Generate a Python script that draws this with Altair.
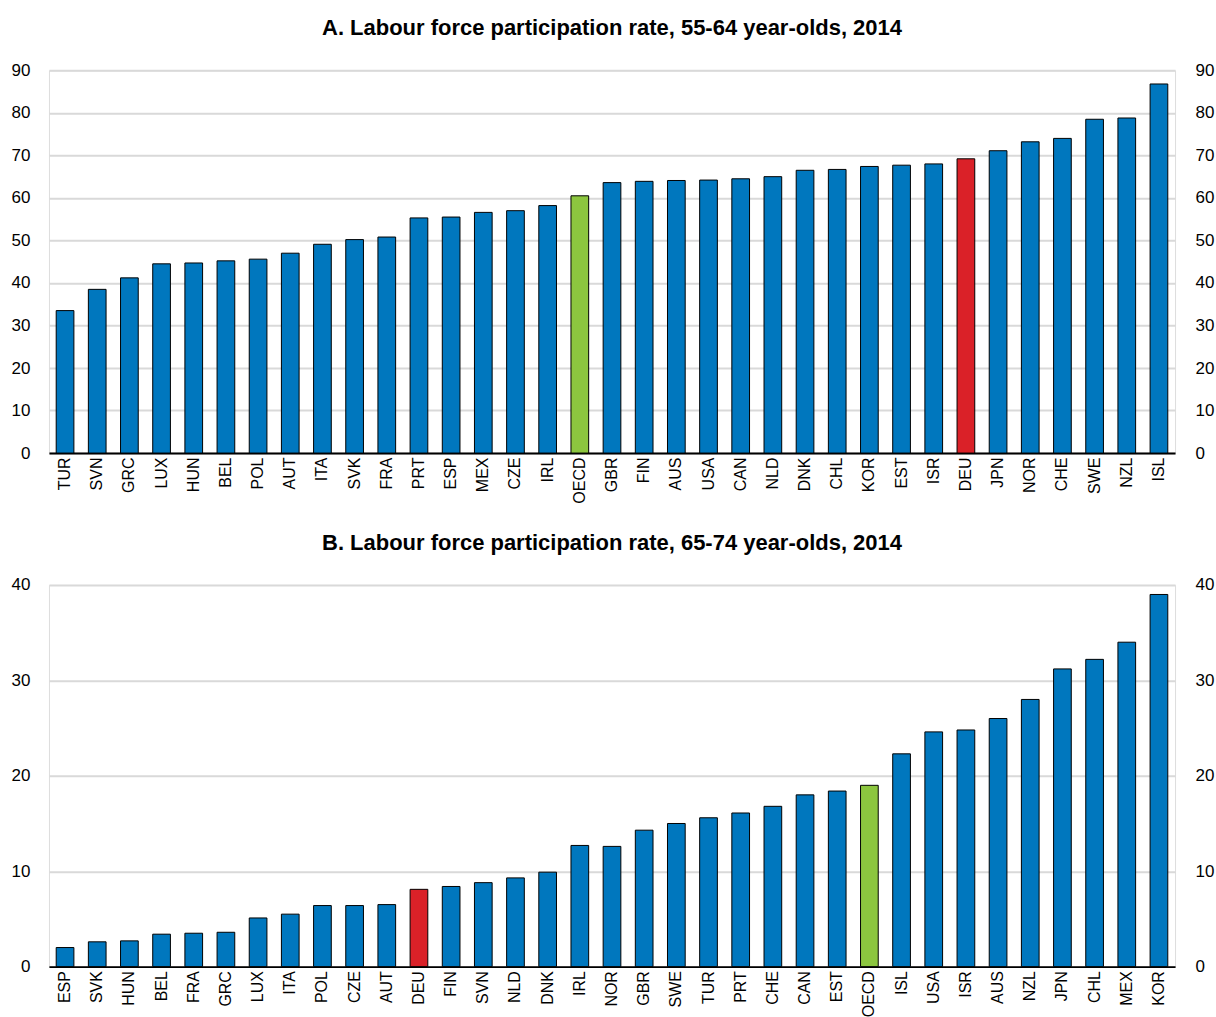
import altair as alt
import pandas as pd

FONT = "Liberation Sans Narrow, Arial Narrow, Liberation Sans, Arial, sans-serif"

# Panel A: 55-64 year-olds
countries_a = ["TUR", "SVN", "GRC", "LUX", "HUN", "BEL", "POL", "AUT", "ITA", "SVK",
               "FRA", "PRT", "ESP", "MEX", "CZE", "IRL", "OECD", "GBR", "FIN", "AUS",
               "USA", "CAN", "NLD", "DNK", "CHL", "KOR", "EST", "ISR", "DEU", "JPN",
               "NOR", "CHE", "SWE", "NZL", "ISL"]
values_a = [33.5, 38.5, 41.2, 44.5, 44.7, 45.2, 45.6, 47.0, 49.1, 50.2,
            50.8, 55.3, 55.5, 56.6, 57.0, 58.2, 60.5, 63.6, 63.9, 64.1,
            64.2, 64.5, 65.0, 66.5, 66.7, 67.4, 67.7, 68.0, 69.2, 71.1,
            73.2, 74.0, 78.5, 78.8, 86.8]

# Panel B: 65-74 year-olds
countries_b = ["ESP", "SVK", "HUN", "BEL", "FRA", "GRC", "LUX", "ITA", "POL", "CZE",
               "AUT", "DEU", "FIN", "SVN", "NLD", "DNK", "IRL", "NOR", "GBR", "SWE",
               "TUR", "PRT", "CHE", "CAN", "EST", "OECD", "ISL", "USA", "ISR", "AUS",
               "NZL", "JPN", "CHL", "MEX", "KOR"]
values_b = [2.0, 2.6, 2.7, 3.4, 3.5, 3.6, 5.1, 5.5, 6.4, 6.4,
            6.5, 8.1, 8.4, 8.8, 9.3, 9.9, 12.7, 12.6, 14.3, 15.0,
            15.6, 16.1, 16.8, 18.0, 18.4, 19.0, 22.3, 24.6, 24.8, 26.0,
            28.0, 31.2, 32.2, 34.0, 39.0]

titles = ["A. Labour force participation rate, 55-64 year-olds, 2014",
          "B. Labour force participation rate, 65-74 year-olds, 2014"]
ticks_a = [0, 10, 20, 30, 40, 50, 60, 70, 80, 90]
ticks_b = [0, 10, 20, 30, 40]

highlight_keys = ["other", "OECD", "DEU"]
highlight_colors = ["#0077BE", "#8CC63F", "#DA2128"]


def frame(countries, values):
    df = pd.DataFrame({"country": countries, "value": values})
    df["kind"] = df["country"].where(df["country"].isin(["OECD", "DEU"]), "other")
    return df


def panel(df, title, ticks, height):
    domain = [ticks[0], ticks[-1]]
    x = alt.X("country:N", sort=None, title=None,
              scale=alt.Scale(paddingInner=0.45, paddingOuter=0.225),
              axis=alt.Axis(labelAngle=-90, labelFontSize=16, labelFont=FONT,
                            labelColor="#000000", labelPadding=4, ticks=False,
                            domainColor="#000000", domainWidth=2, labelAlign="right",
                            labelBaseline="middle"))
    base = alt.Chart(df).encode(x=x)
    bars = base.mark_bar(stroke="#000000", strokeWidth=1).encode(
        y=alt.Y("value:Q", title=None,
                scale=alt.Scale(domain=domain, nice=False),
                axis=alt.Axis(values=ticks, orient="left", domain=False, ticks=False,
                              labelFontSize=17, labelFont=FONT, labelColor="#000000",
                              labelPadding=19, gridColor="#D9D9D9", gridWidth=2)),
        color=alt.Color("kind:N", legend=None,
                        scale=alt.Scale(domain=highlight_keys, range=highlight_colors)),
    )
    mirror = base.mark_bar(opacity=0).encode(
        y=alt.Y("value:Q", title=None,
                scale=alt.Scale(domain=domain, nice=False),
                axis=alt.Axis(values=ticks, orient="right", domain=False, ticks=False,
                              grid=False, labelFontSize=17, labelFont=FONT,
                              labelColor="#000000", labelPadding=20)),
    )
    return alt.layer(bars, mirror).resolve_scale(y="independent").properties(
        width=1127, height=height,
        title=alt.Title(title, font=FONT, fontSize=22, fontWeight="bold",
                        color="#000000", anchor="middle", offset=21),
    )


chart = alt.vconcat(
    panel(frame(countries_a, values_a), titles[0], ticks_a, 383),
    panel(frame(countries_b, values_b), titles[1], ticks_b, 382),
    spacing=27,
).properties(
    padding={"left": 10, "right": 1, "top": 16, "bottom": 5},
).configure_view(stroke=None).configure(background="#FFFFFF")

chart.save("out.html", embed_options={"renderer": "svg", "actions": False})
